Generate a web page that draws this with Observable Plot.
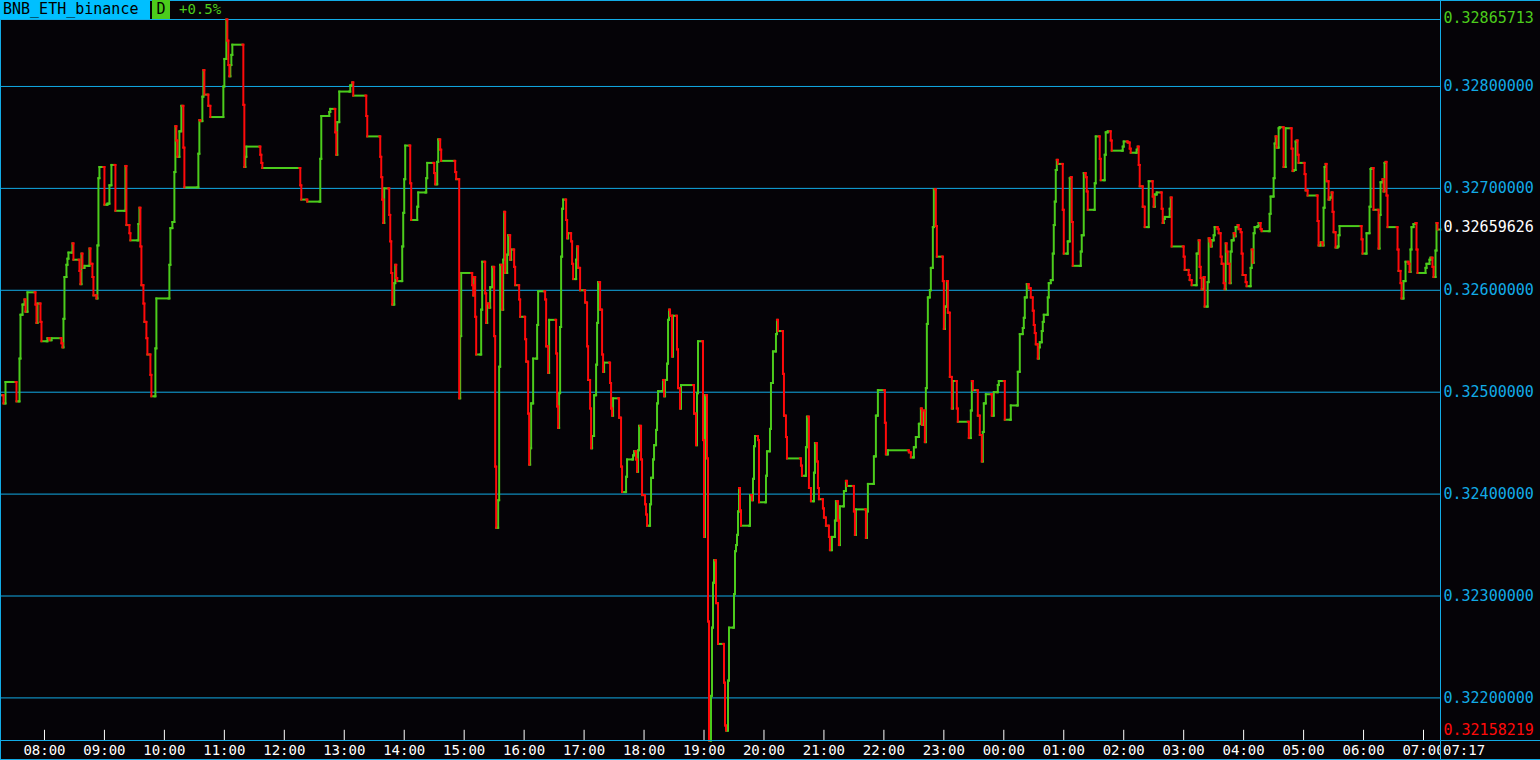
<!DOCTYPE html>
<html><head><meta charset="utf-8">
<script src="https://cdn.jsdelivr.net/npm/d3@7"></script>
<script src="https://cdn.jsdelivr.net/npm/@observablehq/plot@0.6"></script>
<style>
body{margin:0;background:#050307;}
#wrap{position:relative;width:1540px;height:760px;background:#050307;overflow:hidden;font-family:"DejaVu Sans Mono",monospace;}
#chart{position:absolute;left:0;top:0;}
.ov{position:absolute;}
.ln{position:absolute;background:#12abe6;}
</style></head><body>
<div id="wrap">
<div id="chart"></div>
<div class="ln" style="left:0;top:0;width:1px;height:760px"></div>
<div class="ln" style="left:1540px;top:0;width:1px;height:760px"></div>
<div class="ln" style="left:0;top:0;width:1540px;height:1px"></div>
<div class="ln" style="left:0;top:759px;width:1540px;height:1px"></div>
<div class="ln" style="left:1440px;top:0;width:1px;height:760px"></div>
<div class="ov" id="lastBox" style="left:1441px;top:741px;width:99px;height:18px;background:#050307;color:#fff;font-size:14px;line-height:18px;padding-left:2px;box-sizing:border-box"></div>
<div class="ln" style="left:0;top:740px;width:1540px;height:1px"></div>
<div class="ov" id="sym" style="left:0;top:0;width:150px;height:19px;background:#00bfff;color:#000;font-size:15px;line-height:19px;padding-left:3px;box-sizing:border-box"></div>
<div class="ov" id="per" style="left:152px;top:0;width:18px;height:19px;background:#4ccc1c;color:#000;font-size:15px;line-height:19px;text-align:center"></div>
<div class="ov" id="chg" style="left:179px;top:0;height:19px;color:#4ccc1c;font-size:14px;line-height:19px"></div>
</div>
<script>
const symbol = "BNB_ETH_binance";
const period = "D";
const change = "+0.5%";
const lastTime = "07:17";

// minutes elapsed since 07:17 (day 1)
const minutes = [
0,2,4,15,18,19,21,23,24,26,34,35,36,39,40,46,48,50,60,61,62,63,65,66,67,71,72,78,79,80,81,83,88,89,91,92,95,96,97,98,
103,106,108,110,114,124,125,128,129,137,138,139,140,142,143,145,146,149,150,154,155,168,169,171,173,174,175,176,178,180,
182,183,197,198,199,201,202,203,207,209,222,223,225,226,227,228,229,230,231,242,243,244,245,259,260,261,299,300,306,319,
320,328,329,334,335,336,338,349,351,352,
365,366,379,380,381,382,383,388,389,390,391,393,394,395,396,401,402,403,404,409,410,416,417,425,426,433,434,436,437,439,
440,454,455,458,459,460,471,472,473,474,475,480,481,484,485,486,488,489,491,493,494,495,497,498,499,501,502,503,504,506,
507,509,510,513,514,518,519,524,525,527,528,529,530,532,536,537,544,545,547,548,555,556,557,558,559,560,561,562,565,566,
567,570,571,572,575,576,577,579,584,586,587,589,590,591,593,595,596,597,599,601,602,603,609,610,611,612,618,620,621,625,
626,632,633,635,636,637,638,640,641,644,645,646,649,650,652,653,655,656,657,662,663,664,666,667,668,669,671,672,676,677,
679,680,693,695,696,697,702,703,704,706,707,
708,710,711,712,713,715,717,723,724,725,727,728,733,734,735,736,737,738,739,740,749,751,752,753,754,757,758,765,766,769,
770,772,775,776,777,782,783,785,786,800,801,805,806,808,810,813,814,816,817,818,822,823,825,828,829,831,834,835,837,838,
839,843,845,846,853,854,855,865,866,867,873,875,877,884,885,887,908,910,913,915,918,920,921,923,924,925,926,927,929,930,
932,933,935,936,942,943,944,946,947,949,951,952,956,957,968,970,971,972,977,979,981,982,983,985,991,993,997,998,1004,1010,
1017,1019,1022,1023,1024,1026,1028,1030,1032,1033,1034,1035,1037,1038,1039,1041,1042,1043,1047,1048,1050,1052,1053,1054,1055,
1056,1057,1062,1063,1067,1069,1070,1071,1072,1080,1081,1083,1085,1086,1087,1094,1095,1099,1100,1104,1105,1107,1110,1111,
1122,1123,1127,1129,1130,1136,1137,1138,1139,1142,1144,1148,1152,1153,1154,1156,1161,1162,1163,1164,1169,1170,1171,1183,
1184,1188,1189,1191,1196,1198,1199,1200,1201,1203,1204,1207,1208,1209,1210,1211,1213,1214,1217,1218,1220,1221,1223,1224,
1225,1226,1227,1229,1230,1231,1233,1234,1235,1237,1238,1240,1241,1242,1245,1246,1250,1251,1252,1253,1254,1257,1258,1260,
1261,1269,1270,1273,1274,1275,1276,1278,1279,1283,1285,1291,1292,1293,1295,1296,1297,1298,1304,1305,1307,1317,1318,1320,
1322,1323,1324,1325,1326,1328,1329,1331,1332,1333,1335,1337,1338,1339,1361,1362,1366,1369,1370,1371,1373,1378,1379,1380,
1382,1383,1384,1385,1386,1387,1397,1398,1400,1401,1403,1405,1408,1409,1410,1411,1413,1415,1416,1417,1425,1426,1429,1430,
1432,1433,1435,1436,1437
];

const prices = [
0.32497,0.32489,0.32510,0.32491,0.32533,0.32576,0.32586,0.32591,0.32579,0.32598,0.32586,0.32568,0.32587,0.32569,0.32550,0.32553,0.32551,0.32553,0.32548,0.32544,0.32572,0.32613,0.32625,0.32631,0.32637,0.32646,0.32630,0.32619,0.32606,0.32636,0.32622,0.32624,0.32641,0.32626,0.32613,0.32595,0.32592,0.32644,0.32710,0.32721,
0.32684,0.32685,0.32703,0.32723,0.32678,0.32722,0.32664,0.32656,0.32649,0.32665,0.32681,0.32643,0.32605,0.32587,0.32569,0.32553,0.32537,0.32517,0.32496,0.32543,0.32592,0.32625,0.32661,0.32667,0.32716,0.32761,0.32747,0.32731,0.32756,0.32781,
0.32740,0.32701,0.32734,0.32767,0.32766,0.32790,0.32816,0.32792,0.32781,0.32770,0.32800,0.32827,0.32865713,0.32845,0.32821,0.32810,0.32821,0.32831,0.32841,0.32782,0.32721,0.32731,0.32741,0.32733,0.32725,0.32720,0.32703,0.32689,0.32687,0.32729,
0.32771,0.32775,0.32778,0.32755,0.32733,0.32765,0.32795,0.32801,0.32804,0.32791,
0.32771,0.32751,0.32731,0.32711,0.32689,0.32666,0.32700,0.32674,0.32648,0.32617,0.32586,0.32607,0.32625,0.32612,0.32609,0.32643,0.32676,0.32709,0.32742,0.32705,0.32669,0.32682,0.32696,0.32710,0.32725,0.32715,0.32704,0.32726,0.32748,0.32738,
0.32727,0.32716,0.32709,0.32494,0.32555,0.32617,0.32605,0.32595,0.32613,0.32574,0.32537,0.32581,0.32628,0.32597,0.32568,0.32587,0.32583,0.32603,0.32623,0.32555,0.32427,0.32367,0.32394,0.32525,0.32625,0.32581,0.32630,0.32677,0.32617,0.32635,
0.32654,0.32630,0.32640,0.32623,0.32605,0.32591,0.32574,0.32552,0.32530,0.32479,0.32429,0.32445,0.32489,0.32533,0.32566,0.32599,0.32591,0.32545,0.32519,0.32571,0.32538,0.32486,0.32465,0.32499,0.32564,0.32633,0.32680,0.32689,0.32669,0.32651,
0.32656,0.32648,0.32626,0.32611,0.32630,0.32643,0.32622,0.32600,0.32588,0.32545,0.32512,0.32484,0.32445,0.32457,0.32497,0.32527,0.32568,0.32608,0.32581,0.32537,0.32520,0.32529,0.32509,0.32484,0.32477,0.32494,0.32475,0.32427,0.32402,0.32417,
0.32434,0.32438,0.32442,0.32434,0.32422,0.32443,0.32467,0.32434,0.32399,0.32390,0.32380,0.32369,0.32390,0.32416,0.32434,0.32448,0.32463,0.32489,0.32501,0.32512,0.32496,0.32512,0.32528,0.32571,0.32581,0.32575,0.32535,0.32575,0.32542,0.32504,
0.32484,0.32507,0.32479,0.32448,0.32499,0.32550,0.32453,0.32358,0.32497,0.32435,0.32275,
0.32158219,0.32202,0.32269,0.32313,0.32335,0.32293,0.32253,0.32215,0.32173,0.32168,0.32217,0.32269,0.32302,0.32344,0.32350,0.32360,0.32383,0.32406,0.32384,0.32369,0.32399,0.32394,0.32415,0.32447,0.32457,0.32453,0.32392,0.32418,0.32442,0.32464,
0.32509,0.32540,0.32557,0.32571,0.32560,0.32518,0.32477,0.32456,0.32435,0.32428,0.32418,0.32446,0.32476,0.32406,0.32393,0.32421,0.32450,0.32432,0.32406,0.32395,0.32386,0.32377,0.32369,0.32358,0.32345,0.32358,0.32374,0.32393,0.32374,0.32350,
0.32388,0.32403,0.32413,0.32408,0.32383,0.32360,0.32385,0.32357,0.32383,0.32410,0.32437,0.32477,0.32502,0.32470,0.32439,0.32443,0.32441,0.32436,0.32446,0.32456,0.32469,0.32484,0.32468,0.32482,0.32451,0.32504,0.32567,0.32593,0.32600,0.32622,
0.32662,0.32699,0.32663,0.32633,0.32609,0.32562,0.32584,0.32609,0.32578,0.32515,0.32484,0.32511,0.32484,0.32471,0.32455,0.32482,0.32511,0.32502,0.32477,0.32458,0.32432,0.32461,0.32489,0.32498,0.32477,0.32500,0.32507,0.32511,0.32473,0.32487,
0.32520,0.32557,0.32563,0.32573,0.32593,0.32606,0.32602,0.32593,0.32580,0.32566,0.32558,0.32547,0.32533,0.32544,0.32549,0.32560,0.32569,0.32576,0.32593,0.32607,0.32610,0.32636,0.32664,0.32687,0.32718,
0.32728,0.32724,0.32679,0.32636,0.32648,0.32710,0.32711,0.32667,0.32624,0.32638,0.32654,0.32715,0.32711,0.32697,0.32679,0.32705,0.32751,0.32729,0.32708,0.32733,0.32755,0.32756,0.32747,0.32737,
0.32741,0.32746,0.32745,0.32739,0.32735,0.32738,0.32741,0.32723,0.32702,0.32682,0.32662,0.32707,0.32692,0.32682,0.32694,0.32696,0.32680,0.32666,0.32670,0.32672,0.32680,0.32691,0.32643,0.32633,
0.32620,0.32615,0.32610,0.32605,0.32636,0.32649,0.32623,0.32612,0.32601,0.32613,0.32584,0.32608,0.32651,0.32648,0.32643,0.32649,0.32654,0.32662,0.32660,0.32656,0.32633,0.32626,0.32607,0.32601,
0.32646,0.32638,0.32626,0.32607,0.32638,0.32649,0.32656,0.32653,0.32662,0.32664,0.32660,0.32657,0.32636,0.32615,0.32608,0.32604,0.32622,0.32640,0.32627,0.32656,0.32662,0.32663,0.32666,0.32660,
0.32658,0.32675,0.32692,0.32710,0.32744,0.32751,0.32740,0.32759,0.32760,0.32721,0.32759,0.32739,0.32717,0.32718,0.32746,0.32747,0.32733,0.32725,0.32714,0.32698,0.32693,0.32668,0.32644,0.32647,
0.32644,0.32681,0.32721,0.32724,0.32707,0.32689,0.32691,0.32696,0.32677,0.32657,0.32642,0.32643,0.32654,0.32663,0.32650,0.32636,0.32656,0.32682,0.32719,0.32720,0.32679,0.32641,0.32674,0.32706,
0.32709,0.32697,0.32725,0.32726,0.32693,0.32662,0.32640,0.32619,0.32607,0.32592,0.32609,0.32628,0.32626,0.32618,0.32640,0.32662,0.32665,0.32666,0.32640,0.32617,0.32622,0.32626,0.32630,0.32632,
0.32623,0.32613,0.32639,0.32666,0.32659626
];

const gridValues = [0.322, 0.323, 0.324, 0.325, 0.326, 0.327, 0.328];
const tickMinutes = [43,103,163,223,283,343,403,463,523,583,643,703,763,823,883,943,1003,1063,1123,1183,1243,1303,1363,1423];
const tickLabels = ["08:00","09:00","10:00","11:00","12:00","13:00","14:00","15:00","16:00","17:00","18:00","19:00","20:00","21:00","22:00","23:00","00:00","01:00","02:00","03:00","04:00","05:00","06:00","07:00"];
const endMinute = 1440;

const GREEN = "#4ccc1c", RED = "#ff0a0a", CYAN = "#12abe6";

const minP = d3.min(prices), maxP = d3.max(prices), lastP = prices[prices.length - 1];

// step segments built from the arrays
const segs = [];
for (let k = 1; k < minutes.length; k++) {
  const t0 = minutes[k-1], t1 = minutes[k], v0 = prices[k-1], v1 = prices[k];
  const c = v1 >= v0 ? GREEN : RED;
  if (t1 - 1 > t0) segs.push({x1: t0, x2: t1 - 1, y1: v0, y2: v0, c: GREEN});
  segs.push({x1: Math.max(t0, t1 - 1), x2: t1, y1: v0, y2: v0, c});
  segs.push({x1: t1, x2: t1, y1: v0, y2: v1, c});
}
segs.push({x1: minutes[minutes.length-1], x2: endMinute, y1: lastP, y2: lastP, c: GREEN});
const greens = segs.filter(s => s.c === GREEN), reds = segs.filter(s => s.c === RED);

const chart = Plot.plot({
  width: 1540, height: 760,
  marginLeft: 1, marginRight: 100, marginTop: 19, marginBottom: 20,
  x: {domain: [0, endMinute], axis: null},
  y: {domain: [minP, maxP], axis: null},
  color: {type: "identity"},
  style: {background: "transparent", fontFamily: "'DejaVu Sans Mono', monospace", fontSize: "15px", color: CYAN},
  marks: [
    Plot.ruleY(gridValues, {stroke: CYAN, strokeWidth: 1, strokeOpacity: 1}),
    Plot.ruleY([maxP], {stroke: CYAN, strokeWidth: 1}),
    Plot.link(greens, {x1: "x1", x2: "x2", y1: "y1", y2: "y2", stroke: "c", strokeWidth: 2, strokeLinecap: "square"}),
    Plot.link(reds, {x1: "x1", x2: "x2", y1: "y1", y2: "y2", stroke: "c", strokeWidth: 2, strokeLinecap: "square"}),
    Plot.ruleX(tickMinutes, {x: d => d, y1: () => minP, y2: () => minP + 0.0001, stroke: "white", strokeWidth: 1}),
    Plot.axisY({anchor: "right", ticks: gridValues, tickSize: 0, tickPadding: 3, tickFormat: d => d.toFixed(8), fill: CYAN, fontSize: 15, label: null}),
    Plot.axisX({anchor: "bottom", ticks: tickMinutes, tickSize: 0, tickPadding: 5, tickFormat: d => tickLabels[tickMinutes.indexOf(d)], fill: "white", fontSize: 14, label: null}),
    Plot.text([maxP], {x: () => endMinute, y: d => d, text: d => d.toFixed(8), dx: 3, dy: -1, textAnchor: "start", fill: GREEN, fontSize: 15}),
    Plot.text([lastP], {x: () => endMinute, y: d => d, text: d => d.toFixed(8), dx: 3, dy: -2, textAnchor: "start", fill: "white", fontSize: 15}),
    Plot.text([minP], {x: () => endMinute, y: d => d, text: d => d.toFixed(8), dx: 3, dy: -10, textAnchor: "start", fill: RED, fontSize: 15})
  ]
});
document.getElementById("chart").append(chart);
document.getElementById("sym").textContent = symbol;
document.getElementById("per").textContent = period;
document.getElementById("chg").textContent = change;
document.getElementById("lastBox").textContent = lastTime;
</script>
</body></html>
